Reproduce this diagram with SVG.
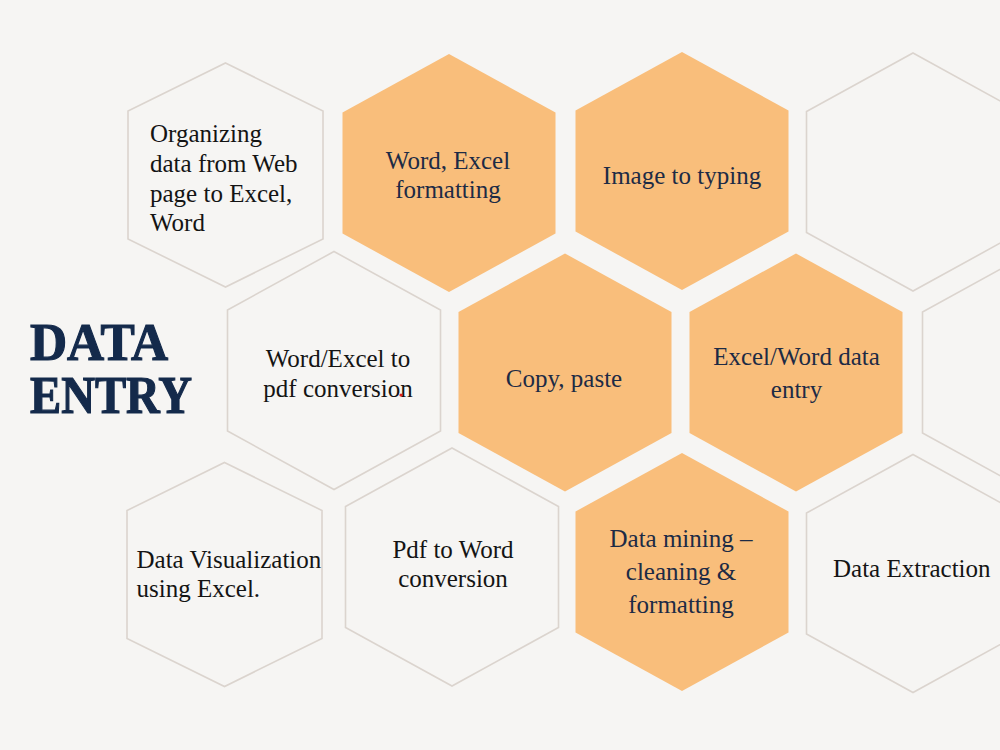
<svg xmlns="http://www.w3.org/2000/svg" xmlns:xlink="http://www.w3.org/1999/xlink" width="1000" height="750" viewBox="0 0 1000 750">
  <defs>
    <polygon id="hexL" points="0,-119 106.5,-60.5 106.5,60.5 0,119 -106.5,60.5 -106.5,-60.5"/>
    <polygon id="hexS" points="0,-112 97.5,-64 97.5,64 0,112 -97.5,64 -97.5,-64"/>
  </defs>
  <style>
    .outline { fill: #f6f5f3; stroke: #dbd4ce; stroke-width: 1.6; }
    .orange { fill: #f9be7b; stroke: none; }
    .t { font-family: "Liberation Serif", "Times New Roman", serif; font-size: 25px; }
    .dark { fill: #141414; }
    .navy { fill: #1d2b45; }
    .mid { text-anchor: middle; }
    .title { font-family: "Liberation Serif", "DejaVu Serif", serif; font-weight: bold; font-size: 53px; fill: #142a4b; stroke: #142a4b; stroke-width: 1.2; }
  </style>
  <rect x="0" y="0" width="1000" height="750" fill="#f6f5f3"/>

  <g id="title">
    <text class="title" x="30" y="360" textLength="138" lengthAdjust="spacingAndGlyphs">DATA</text>
    <text class="title" x="30" y="413" textLength="162" lengthAdjust="spacingAndGlyphs">ENTRY</text>
  </g>

  <g id="node-organizing">
    <use xlink:href="#hexS" href="#hexS" class="outline" transform="translate(225.5,175)"/>
    <text class="t dark" x="150" y="141.5">Organizing</text>
    <text class="t dark" x="150" y="171.5">data from Web</text>
    <text class="t dark" x="150" y="201.5">page to Excel,</text>
    <text class="t dark" x="150" y="230.5">Word</text>
  </g>

  <g id="node-word-excel-formatting">
    <use xlink:href="#hexL" href="#hexL" class="orange" transform="translate(449,173)"/>
    <text class="t navy mid" x="448" y="169">Word, Excel</text>
    <text class="t navy mid" x="448" y="198">formatting</text>
  </g>

  <g id="node-image-to-typing">
    <use xlink:href="#hexL" href="#hexL" class="orange" transform="translate(682,171)"/>
    <text class="t navy mid" x="682" y="183.5">Image to typing</text>
  </g>

  <g id="node-empty-top-right">
    <use xlink:href="#hexL" href="#hexL" class="outline" transform="translate(913,172)"/>
  </g>

  <g id="node-word-excel-to-pdf">
    <use xlink:href="#hexL" href="#hexL" class="outline" transform="translate(334,370.5)"/>
    <text class="t dark mid" x="338" y="366.5">Word/Excel to</text>
    <text class="t dark mid" x="338" y="396.5">pdf conversion</text>
    <circle cx="401" cy="395" r="1.6" fill="#e02020"/>
  </g>

  <g id="node-copy-paste">
    <use xlink:href="#hexL" href="#hexL" class="orange" transform="translate(565,372.5)"/>
    <text class="t navy mid" x="564" y="386.5">Copy, paste</text>
  </g>

  <g id="node-excel-word-data-entry">
    <use xlink:href="#hexL" href="#hexL" class="orange" transform="translate(796,372.5)"/>
    <text class="t navy mid" x="796.5" y="364.5">Excel/Word data</text>
    <text class="t navy mid" x="796.5" y="397.5">entry</text>
  </g>

  <g id="node-empty-right">
    <use xlink:href="#hexL" href="#hexL" class="outline" transform="translate(1029,372.5)"/>
  </g>

  <g id="node-data-visualization">
    <use xlink:href="#hexS" href="#hexS" class="outline" transform="translate(224.5,574.5)"/>
    <text class="t dark" x="136.5" y="568">Data Visualization</text>
    <text class="t dark" x="136.5" y="597">using Excel.</text>
  </g>

  <g id="node-pdf-to-word">
    <use xlink:href="#hexL" href="#hexL" class="outline" transform="translate(452,567)"/>
    <text class="t dark mid" x="453" y="557.5">Pdf to Word</text>
    <text class="t dark mid" x="453" y="587">conversion</text>
  </g>

  <g id="node-data-mining">
    <use xlink:href="#hexL" href="#hexL" class="orange" transform="translate(682,572)"/>
    <text class="t navy mid" x="681" y="546.5">Data mining –</text>
    <text class="t navy mid" x="681" y="579.5">cleaning &amp;</text>
    <text class="t navy mid" x="681" y="613">formatting</text>
  </g>

  <g id="node-data-extraction">
    <use xlink:href="#hexL" href="#hexL" class="outline" transform="translate(913,573.5)"/>
    <text class="t dark" x="833" y="577">Data Extraction</text>
  </g>

  <g id="connectors"/>
</svg>
